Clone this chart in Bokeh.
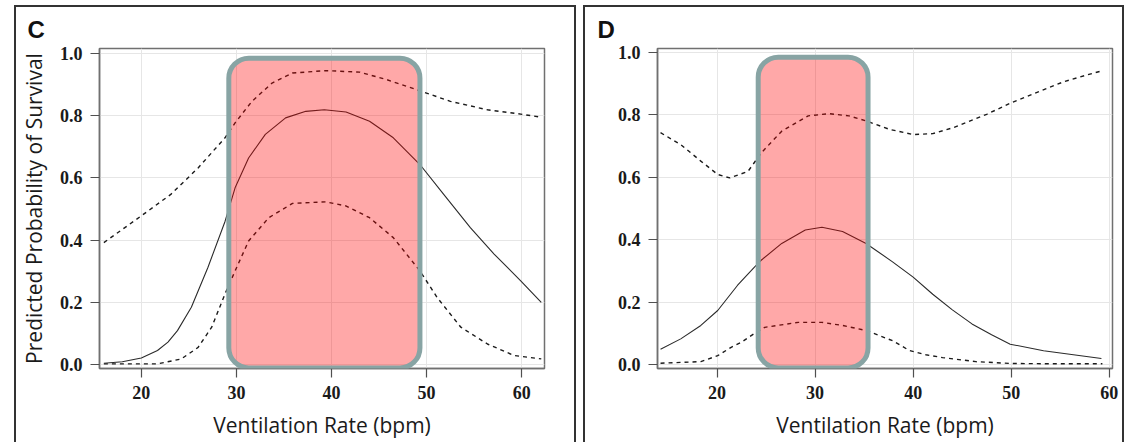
from bokeh.plotting import figure
from bokeh.layouts import row, column
from bokeh.models import BoxAnnotation, Range1d, FixedTicker, Spacer
from bokeh.embed import file_html
from bokeh.resources import INLINE

# ---------------- data ----------------
x_ticks = [20, 30, 40, 50, 60]
x_tick_labels = ["20", "30", "40", "50", "60"]
y_ticks = [0.0, 0.2, 0.4, 0.6, 0.8, 1.0]
y_tick_labels = ["0.0", "0.2", "0.4", "0.6", "0.8", "1.0"]

# Panel C
c_mean_x = [16.06, 18.0, 20.0, 21.7, 22.8, 23.8, 25.26, 27.0, 28.8, 29.86, 31.28, 33.04, 35.17, 37.3, 39.24,
            41.53, 44.0, 46.5, 49.3, 51.8, 54.6, 57.1, 59.9, 62.06]
c_mean_y = [0.004, 0.009, 0.021, 0.045, 0.072, 0.109, 0.184, 0.312, 0.46, 0.568, 0.664, 0.74, 0.793, 0.814, 0.819,
            0.812, 0.782, 0.729, 0.643, 0.547, 0.44, 0.355, 0.269, 0.2]
c_upper_x = [16.06, 20.0, 23.1, 25.97, 28.8, 29.86, 31.63, 33.75, 35.88, 39.4, 42.96, 45.8, 49.3,
             52.5, 56.4, 59.9, 62.06]
c_upper_y = [0.392, 0.478, 0.547, 0.632, 0.729, 0.777, 0.846, 0.905, 0.937, 0.945, 0.94, 0.916, 0.88,
             0.846, 0.819, 0.805, 0.795]
c_lower_x = [16.06, 21.7, 24.2, 25.97, 27.4, 28.8, 29.86, 31.28, 33.4, 35.9, 39.4, 41.5, 44.0, 46.5,
             49.3, 51.1, 53.6, 56.4, 59.2, 62.06]
c_lower_y = [0.002, 0.002, 0.018, 0.055, 0.12, 0.227, 0.301, 0.397, 0.472, 0.518, 0.523, 0.51, 0.472,
             0.408, 0.301, 0.216, 0.12, 0.066, 0.029, 0.018]
c_box = dict(left=29.2, right=49.3, bottom=-0.011, top=0.985)

# Panel D
d_mean_x = [14.24, 16.3, 18.35, 20.07, 22.1, 23.84, 24.5, 26.6, 29.0, 30.7, 32.8, 35.2, 37.9, 40.0,
            42.0, 44.0, 46.0, 48.0, 49.9, 53.3, 59.2]
d_mean_y = [0.049, 0.082, 0.125, 0.173, 0.254, 0.313, 0.334, 0.388, 0.431, 0.44, 0.426, 0.388, 0.329,
            0.28, 0.225, 0.175, 0.13, 0.095, 0.065, 0.044, 0.019]
d_upper_x = [14.24, 16.3, 18.35, 20.07, 21.3, 23.16, 24.5, 26.6, 29.3, 31.4, 33.45, 35.2, 37.56, 40.0,
             42.0, 44.07, 47.5, 50.07, 53.0, 55.4, 57.8, 59.33]
d_upper_y = [0.743, 0.705, 0.652, 0.609, 0.598, 0.619, 0.678, 0.748, 0.797, 0.804, 0.797, 0.781, 0.754,
             0.737, 0.74, 0.759, 0.802, 0.84, 0.877, 0.907, 0.929, 0.942]
d_lower_x = [14.24, 18.35, 20.07, 21.44, 22.47, 23.84, 24.87, 28.3, 30.7, 32.8, 35.2, 37.9, 39.6, 41.3,
             43.0, 46.4, 50.0, 55.0, 59.3]
d_lower_y = [0.004, 0.009, 0.028, 0.055, 0.071, 0.1, 0.119, 0.135, 0.135, 0.125, 0.109, 0.076, 0.045,
             0.031, 0.022, 0.009, 0.003, 0.002, 0.002]
d_box = dict(left=24.2, right=35.4, bottom=-0.011, top=0.985)

# ---------------- styling ----------------
TICK_FONT = "Liberation Serif"
LABEL_FONT = "Open Sans"
PANEL_BORDER = "2px solid #333333"


def make_panel(letter, width, height, xr, yr, borders, series, box, ylabel, letter_offset):
    p = figure(width=width, height=height, x_range=Range1d(*xr), y_range=Range1d(*yr),
               output_backend="svg", toolbar_location=None,
               min_border_left=borders[0], min_border_right=borders[1],
               min_border_top=borders[2], min_border_bottom=borders[3])
    p.styles = {"border-left": PANEL_BORDER, "border-top": PANEL_BORDER,
                "border-right": PANEL_BORDER, "box-sizing": "content-box"}
    p.background_fill_color = "white"
    p.border_fill_color = "white"
    p.outline_line_color = "#707070"
    p.outline_line_width = 1.5

    p.title.text = letter
    p.title.align = "left"
    p.title.offset = letter_offset
    p.title.standoff = 12
    p.title.text_font = "Liberation Sans"
    p.title.text_font_style = "bold"
    p.title.text_font_size = "24px"
    p.title.text_color = "#111111"

    p.xaxis.ticker = FixedTicker(ticks=x_ticks)
    p.xaxis.major_label_overrides = dict(zip(x_ticks, x_tick_labels))
    p.yaxis.ticker = FixedTicker(ticks=y_ticks)
    p.yaxis.major_label_overrides = dict(zip(y_ticks, y_tick_labels))
    for ax in (p.xaxis, p.yaxis):
        ax.axis_line_color = "#707070"
        ax.axis_line_width = 1.5
        ax.major_tick_line_color = "#505050"
        ax.major_tick_line_width = 1.2
        ax.major_tick_in = 0
        ax.major_tick_out = 9
        ax.minor_tick_line_color = None
        ax.major_label_text_font = TICK_FONT
        ax.major_label_text_font_style = "bold"
        ax.major_label_text_font_size = "18px"
        ax.major_label_text_color = "#1a1a1a"
        ax.axis_label_text_font = LABEL_FONT
        ax.axis_label_text_font_style = "normal"
        ax.axis_label_text_font_size = "21px"
        ax.axis_label_text_color = "#1a1a1a"
    p.xaxis.major_label_standoff = 8
    p.yaxis.major_label_standoff = 8
    p.xaxis.axis_label = "Ventilation Rate (bpm)"
    p.xaxis.axis_label_standoff = 9
    if ylabel:
        p.yaxis.axis_label = ylabel
        p.yaxis.axis_label_standoff = 9

    p.grid.grid_line_color = "#e6e6e6"
    p.grid.grid_line_width = 1

    (mx, my), (ux, uy), (lx, ly) = series
    p.line(ux, uy, line_color="#1a1a1a", line_width=1.4, line_dash="4 4")
    p.line(lx, ly, line_color="#1a1a1a", line_width=1.4, line_dash="4 4")
    p.line(mx, my, line_color="#2a2a2a", line_width=1.1)

    p.add_layout(BoxAnnotation(left=box["left"], right=box["right"], bottom=box["bottom"], top=box["top"],
                               fill_color="#ff0000", fill_alpha=0.34,
                               line_color="#88a4a4", line_alpha=1.0, line_width=5, border_radius=20,
                               level="overlay"))
    return p


pc = make_panel("C", 558, 435, (15.6, 62.4), (-0.0128, 1.016), (83, 34, 40, 74),
                ((c_mean_x, c_mean_y), (c_upper_x, c_upper_y), (c_lower_x, c_lower_y)),
                c_box, "Predicted Probability of Survival", -72)
pd_ = make_panel("D", 537, 435, (13.93, 60.33), (-0.013, 1.013), (72, 14, 41, 76),
                 ((d_mean_x, d_mean_y), (d_upper_x, d_upper_y), (d_lower_x, d_lower_y)),
                 d_box, None, -60)

layout = column(Spacer(height=5),
                row(Spacer(width=14), pc, Spacer(width=7), pd_, spacing=0),
                spacing=0)
open("out.html", "w").write(file_html(layout, INLINE))
